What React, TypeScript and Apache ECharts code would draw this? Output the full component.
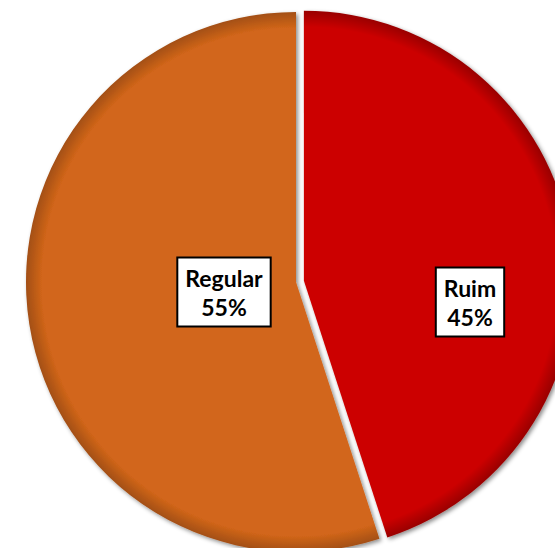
import React, { useEffect, useRef } from "react";
import * as echarts from "echarts";

const categories = ["Ruim", "Regular"];
const values = [45, 55];
const percentLabels = ["45%", "55%"];
const colors = ["#CC0000", "#D2661A"];

export default function App() {
  const ref = useRef<HTMLDivElement>(null);
  useEffect(() => {
    if (!ref.current) return;
    const chart = echarts.init(ref.current, undefined, { renderer: "svg" });
    const labelPos = [
      [470, 302],
      [224, 292],
    ];
    const baseCenter = [296, 282];
    const R = 270;
    const explode = [8, 0];
    const total = values.reduce((a, b) => a + b, 0);
    let acc = 0;
    const centers = values.map((v, i) => {
      const mid = ((acc + v / 2) / total) * Math.PI * 2;
      acc += v;
      return [baseCenter[0] + explode[i] * Math.sin(mid), baseCenter[1] - explode[i] * Math.cos(mid)];
    });
    const series = categories.map((_, k) => ({
      type: "pie",
      center: centers[k],
      radius: [0, R],
      startAngle: 90,
      clockwise: true,
      silent: true,
      emphasis: { disabled: true },
      data: categories.map((c, i) => ({
        name: c,
        value: values[i],
        itemStyle:
          i === k
            ? {
                color: {
                  type: "radial",
                  x: centers[k][0],
                  y: centers[k][1],
                  r: R,
                  global: true,
                  colorStops: [
                    { offset: 0, color: colors[i] },
                    { offset: 0.94, color: colors[i] },
                    {
                      offset: 1,
                      color: echarts.color.modifyHSL(colors[i], undefined, undefined, i === 0 ? 0.3 : 0.36) as string,
                    },
                  ],
                },
                shadowBlur: 4,
                shadowColor: "rgba(0,0,0,0.45)",
                shadowOffsetX: 2,
                shadowOffsetY: 2,
              }
            : { color: "transparent" },
        label: i === k ? { show: true, formatter: `${c}\n${percentLabels[i]}` } : { show: false },
      })),
      label: {
        position: "inside",
        color: "#000000",
        fontFamily: "Lato, 'Open Sans', sans-serif",
        fontWeight: "bold",
        fontSize: 23,
        lineHeight: 29,
        align: "center",
        backgroundColor: "#ffffff",
        borderColor: "#000000",
        borderWidth: 2,
        padding: [5, 7, 4, 7],
      },
      labelLine: { show: false },
      labelLayout: (params: any) => ({
        x: labelPos[params.dataIndex][0],
        y: labelPos[params.dataIndex][1],
        align: "center",
        verticalAlign: "middle",
      }),
    }));
    chart.setOption({
      animation: false,
      backgroundColor: "#ffffff",
      series,
    });
    return () => chart.dispose();
  }, []);
  return (
    <div
      ref={ref}
      style={{ position: "fixed", left: 0, top: 0, width: 555, height: 548 }}
    />
  );
}
